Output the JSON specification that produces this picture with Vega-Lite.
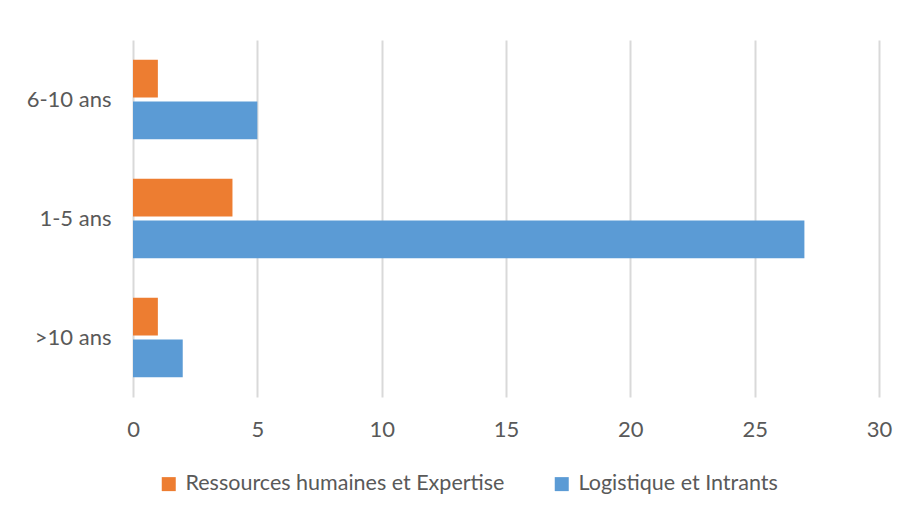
{
  "$schema": "https://vega.github.io/schema/vega-lite/v6.json",
  "width": 746,
  "height": 357,
  "autosize": {"type": "none"},
  "padding": {"left": 133, "top": 40, "right": 25, "bottom": 115},
  "background": "white",
  "config": {
    "view": {"stroke": null},
    "font": "Lato",
    "axis": {"labelFont": "Lato", "labelColor": "#595959", "labelFontSize": 22}
  },
  "data": {
    "values": [
      {"age": "6-10 ans", "serie": "Ressources humaines et Expertise", "value": 1},
      {"age": "6-10 ans", "serie": "Logistique et Intrants", "value": 5},
      {"age": "1-5 ans", "serie": "Ressources humaines et Expertise", "value": 4},
      {"age": "1-5 ans", "serie": "Logistique et Intrants", "value": 27},
      {"age": ">10 ans", "serie": "Ressources humaines et Expertise", "value": 1},
      {"age": ">10 ans", "serie": "Logistique et Intrants", "value": 2}
    ]
  },
  "mark": {"type": "bar"},
  "encoding": {
    "y": {
      "field": "age",
      "type": "nominal",
      "sort": ["6-10 ans", "1-5 ans", ">10 ans"],
      "scale": {"paddingInner": 0.33, "paddingOuter": 0.165},
      "axis": {"title": null, "domain": false, "ticks": false, "labelPadding": 22, "grid": false}
    },
    "yOffset": {
      "field": "serie",
      "type": "nominal",
      "sort": ["Ressources humaines et Expertise", "Logistique et Intrants"],
      "scale": {"paddingInner": 0.1, "paddingOuter": 0}
    },
    "x": {
      "field": "value",
      "type": "quantitative",
      "scale": {"domain": [0, 30], "nice": false},
      "axis": {
        "title": null,
        "values": [0, 5, 10, 15, 20, 25, 30],
        "domain": false,
        "ticks": false,
        "grid": true,
        "gridColor": "#d9d9d9",
        "gridWidth": 2,
        "labelFlush": false,
        "labelPadding": 22
      }
    },
    "color": {
      "field": "serie",
      "type": "nominal",
      "scale": {
        "domain": ["Ressources humaines et Expertise", "Logistique et Intrants"],
        "range": ["#ED7D31", "#5B9BD5"]
      },
      "legend": {
        "title": null,
        "orient": "none",
        "direction": "horizontal",
        "legendX": 25,
        "legendY": 433,
        "symbolType": "square",
        "symbolSize": 196,
        "symbolStrokeWidth": 0,
        "symbolOpacity": 1,
        "labelFontSize": 21.5,
        "labelColor": "#595959",
        "labelFont": "Lato",
        "labelOffset": 6,
        "columnPadding": 46,
        "labelLimit": 400
      }
    }
  }
}
